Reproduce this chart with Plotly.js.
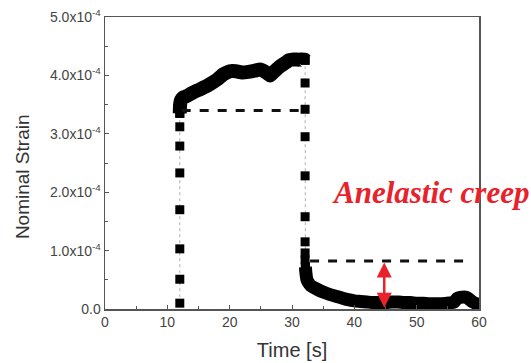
<!DOCTYPE html>
<html><head><meta charset="utf-8">
<script src="https://cdn.plot.ly/plotly-3.0.1.min.js"></script>
<style>html,body{margin:0;padding:0;background:#fff}#chart{width:531px;height:363px}</style>
</head><body><div id="chart"></div>
<script>
// Strain values in units of 1e-4
const SCALE = 1e-4;
// loading step (sparse samples)
const riseTime   = [12.0,12.0,12.0,12.0,12.0,12.0,12.0,12.0];
const riseStrain = [0.10,0.51,1.03,1.70,2.33,2.79,3.12,3.35];
// loaded plateau (dense samples)
const loadTime   = [12.0,12.05,12.2,12.5,13,14,15,16,17,18,19,20,21,22,23,24,25,26,26.5,27,28,29,29.5,30,31,32,32.1];
const loadStrain = [3.35,3.50,3.58,3.62,3.64,3.70,3.75,3.80,3.86,3.93,4.02,4.07,4.07,4.05,4.06,4.08,4.10,4.04,4.00,4.05,4.15,4.22,4.26,4.27,4.27,4.27,4.26];
// unloading step (sparse samples)
const dropTime   = [32.1,32.1,32.1,32.1,32.1,32.1,32.1,32.1,32.1,32.15];
const dropStrain = [4.26,3.87,3.42,2.95,2.28,1.58,1.15,0.96,0.84,0.72];
// recovery (dense samples)
const recTime    = [32.15,32.25,32.4,32.7,33,34,35,36,37,38,39,40,41,42,43,44,45,46,47,48,49,50,51,52,53,54,55,56,56.5,57,58,58.5,59,60];
const recStrain  = [0.72,0.60,0.50,0.44,0.40,0.34,0.29,0.25,0.22,0.19,0.16,0.14,0.13,0.12,0.11,0.11,0.11,0.12,0.12,0.11,0.11,0.10,0.10,0.09,0.09,0.09,0.10,0.12,0.18,0.20,0.20,0.16,0.12,0.07];

const yTickVals = [0,1,2,3,4,5];
const yTickText = ['0.0','1.0x10<sup>-4</sup>','2.0x10<sup>-4</sup>','3.0x10<sup>-4</sup>','4.0x10<sup>-4</sup>','5.0x10<sup>-4</sup>'];
const xTickVals = [0,10,20,30,40,50,60];
const elasticLevel = 3.40;   // dashed line after loading
const recoveryLevel = 0.82;  // dashed line after unloading
const elasticSpan = [12.3, 32.0];
const recoverySpan = [32.9, 58.6];
const arrowTime = 44.8;
const arrowBottom = 0.02;

const sc = a => a.map(v => v * SCALE);
const sparse = (x, y) => ({
  x: x, y: sc(y), type: 'scatter', mode: 'lines+markers',
  marker: {symbol: 'square', size: 9, color: '#000'},
  line: {color: '#b0b0b0', width: 1, dash: 'dot'}, showlegend: false
});
const dense = (x, y, w) => ({
  x: x, y: sc(y), type: 'scatter', mode: 'lines+markers',
  marker: {symbol: 'square', size: 9, color: '#000'},
  line: {color: '#000', width: w, shape: 'spline', smoothing: 0.6}, showlegend: false
});

const traces = [
  sparse(riseTime, riseStrain),
  sparse(dropTime, dropStrain),
  dense(loadTime, loadStrain, 14),
  dense(recTime, recStrain, 13)
];

const axisCommon = {
  showline: true, linecolor: '#555', linewidth: 1.5, mirror: true,
  ticks: 'inside', ticklen: 4, tickcolor: '#555', showgrid: false, zeroline: false,
  tickfont: {family: 'Liberation Sans, Arial', size: 14, color: '#444'}
};

const layout = {
  width: 531, height: 363,
  margin: {l: 105, r: 52, t: 17, b: 54},
  paper_bgcolor: '#fff', plot_bgcolor: '#fff',
  xaxis: Object.assign({}, axisCommon, {
    range: [0, 60], tickvals: xTickVals,
    minor: {ticks: 'inside', ticklen: 3, tickcolor: '#555', dtick: 5},
    title: {text: 'Time [s]', font: {family: 'Liberation Sans, Arial', size: 20, color: '#333'}, standoff: 13}
  }),
  yaxis: Object.assign({}, axisCommon, {
    range: [0, 5 * SCALE], tickvals: sc(yTickVals), ticktext: yTickText,
    minor: {ticks: 'inside', ticklen: 3, tickcolor: '#555', dtick: 0.5 * SCALE}
  }),
  shapes: [
    {type: 'line', xref: 'x', yref: 'y', x0: elasticSpan[0], x1: elasticSpan[1], y0: elasticLevel*SCALE, y1: elasticLevel*SCALE,
     line: {color: '#111', width: 3, dash: 'dash'}},
    {type: 'line', xref: 'x', yref: 'y', x0: recoverySpan[0], x1: recoverySpan[1], y0: recoveryLevel*SCALE, y1: recoveryLevel*SCALE,
     line: {color: '#111', width: 3, dash: 'dash'}}
  ],
  annotations: [
    {xref: 'paper', yref: 'paper', x: -0.222, y: 0.455, xanchor: 'center', yanchor: 'middle', textangle: -90, showarrow: false,
     text: 'Nominal Strain', font: {family: 'Liberation Sans, Arial', size: 19, color: '#333'}},
    {xref: 'x', yref: 'y', x: arrowTime, y: arrowBottom*SCALE, axref: 'x', ayref: 'y', ax: arrowTime, ay: recoveryLevel*SCALE,
     text: '', showarrow: true, arrowside: 'end+start', arrowhead: 2, arrowsize: 1.2, arrowwidth: 2.5, arrowcolor: '#e8212b'},
    {xref: 'x', yref: 'y', x: 36.1, y: 2.0*SCALE, xanchor: 'left', yanchor: 'middle', showarrow: false,
     text: '<b><i>Anelastic creep</i></b>', font: {family: 'Liberation Serif, Times New Roman', size: 31, color: '#e8212b'}}
  ]
};

Plotly.newPlot('chart', traces, layout, {displayModeBar: false, staticPlot: true});
</script></body></html>
